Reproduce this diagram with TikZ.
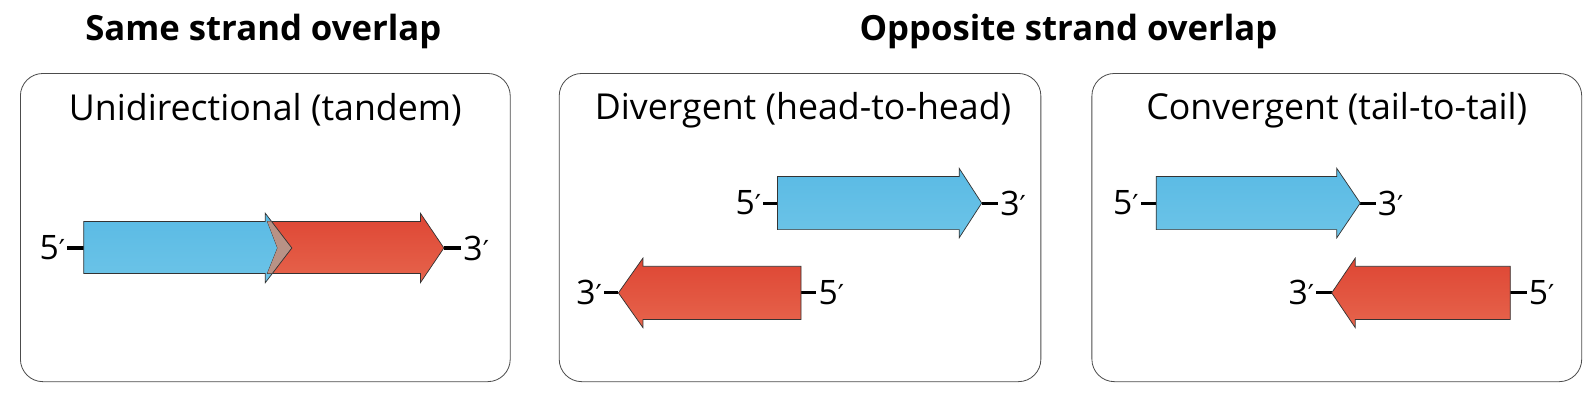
\documentclass[tikz,border=0pt]{standalone}
\usepackage{fontspec}
\setmainfont{Open Sans}
\newfontfamily\primefont{DejaVu Sans}
\usetikzlibrary{positioning}
\definecolor{geneblue}{RGB}{108,196,232}
\definecolor{genebluetop}{RGB}{90,186,228}
\definecolor{genered}{RGB}{230,100,76}
\definecolor{generedtop}{RGB}{222,70,52}
\definecolor{overlapbrown}{RGB}{184,146,134}
\tikzset{
  panel/.style={draw=black!70, line width=0.8pt, rounded corners=22pt},
  bluegene/.style={draw=black!80, line width=0.7pt, top color=genebluetop, bottom color=geneblue},
  redgene/.style={draw=black!80, line width=0.7pt, top color=generedtop, bottom color=genered},
  dnastub/.style={draw=black, line width=3pt},
  endlabel/.style={font=\fontsize{33}{38}\selectfont, inner sep=2pt},
  paneltitle/.style={font=\fontsize{35}{40}\selectfont},
  headtitle/.style={font=\bfseries\fontsize{34}{40}\selectfont}
}
\newcommand\pr{{\primefont\fontsize{27}{30}\selectfont ′}}
% gene outline: start x, body end x, tip x, centre y
\newcommand\genepath[4]{(#1,#4-26)--(#2,#4-26)--(#2,#4-34)--(#3,#4)--(#2,#4+34)--(#2,#4+26)--(#1,#4+26)--cycle}
\begin{document}
\begin{tikzpicture}[x=1pt, y=-1pt]

\useasboundingbox (0,0) rectangle (1564,394);

\node[headtitle] (same) at (258,31) {Same strand overlap};
\node[headtitle] (opp) at (1047,31) {Opposite strand overlap};

\draw[panel] (20,72) rectangle (500,374);
\draw[panel] (548,72) rectangle (1020,374);
\draw[panel] (1070,72) rectangle (1550,374);

\node[paneltitle] (tandem) at (260,108) {Unidirectional (tandem)};
\node[paneltitle] (diverg) at (787,108) {Divergent (head-to-head)};
\node[paneltitle] (converg) at (1310,108) {Convergent (tail-to-tail)};

%% tandem
\draw[dnastub] (66,243) -- (82,243);
\draw[dnastub] (435,243) -- (452,243);
\node[endlabel, anchor=east] (t5) at (66,243) {5\pr};
\node[endlabel, anchor=west] (t3) at (452,243) {3\pr};
\draw[bluegene] (82,217) -- (260,217) -- (260,209) -- (286,243) -- (260,277) -- (260,268) -- (82,268) -- cycle;
\draw[redgene] (262,217) -- (412,217) -- (412,209) -- (435,243) -- (412,277) -- (412,268) -- (262,268) -- (272,243) -- cycle;
\begin{scope}
\clip (262,217) -- (412,217) -- (412,268) -- (262,268) -- (272,243) -- cycle;
\draw[draw=black!80, line width=0.7pt, fill=overlapbrown] (260,209) -- (286,243) -- (260,277) -- cycle;
\end{scope}

%% divergent
\draw[dnastub] (748,199) -- (762,199);
\draw[dnastub] (962,199) -- (978,199);
\node[endlabel, anchor=east] (d5a) at (748,199) {5\pr};
\node[endlabel, anchor=west] (d3a) at (978,199) {3\pr};
\draw[bluegene] \genepath{762}{940}{962}{199};
\draw[dnastub] (592,287) -- (606,287);
\draw[dnastub] (785,287) -- (800,287);
\node[endlabel, anchor=east] (d3b) at (592,287) {3\pr};
\node[endlabel, anchor=west] (d5b) at (800,287) {5\pr};
\draw[redgene] \genepath{785}{630}{606}{287};

%% convergent
\draw[dnastub] (1118,199) -- (1133,199);
\draw[dnastub] (1333,199) -- (1348,199);
\node[endlabel, anchor=east] (c5a) at (1118,199) {5\pr};
\node[endlabel, anchor=west] (c3a) at (1348,199) {3\pr};
\draw[bluegene] \genepath{1133}{1310}{1333}{199};
\draw[dnastub] (1290,287) -- (1305,287);
\draw[dnastub] (1480,287) -- (1496,287);
\node[endlabel, anchor=east] (c3b) at (1290,287) {3\pr};
\node[endlabel, anchor=west] (c5b) at (1496,287) {5\pr};
\draw[redgene] \genepath{1480}{1328}{1305}{287};

\end{tikzpicture}
\end{document}
